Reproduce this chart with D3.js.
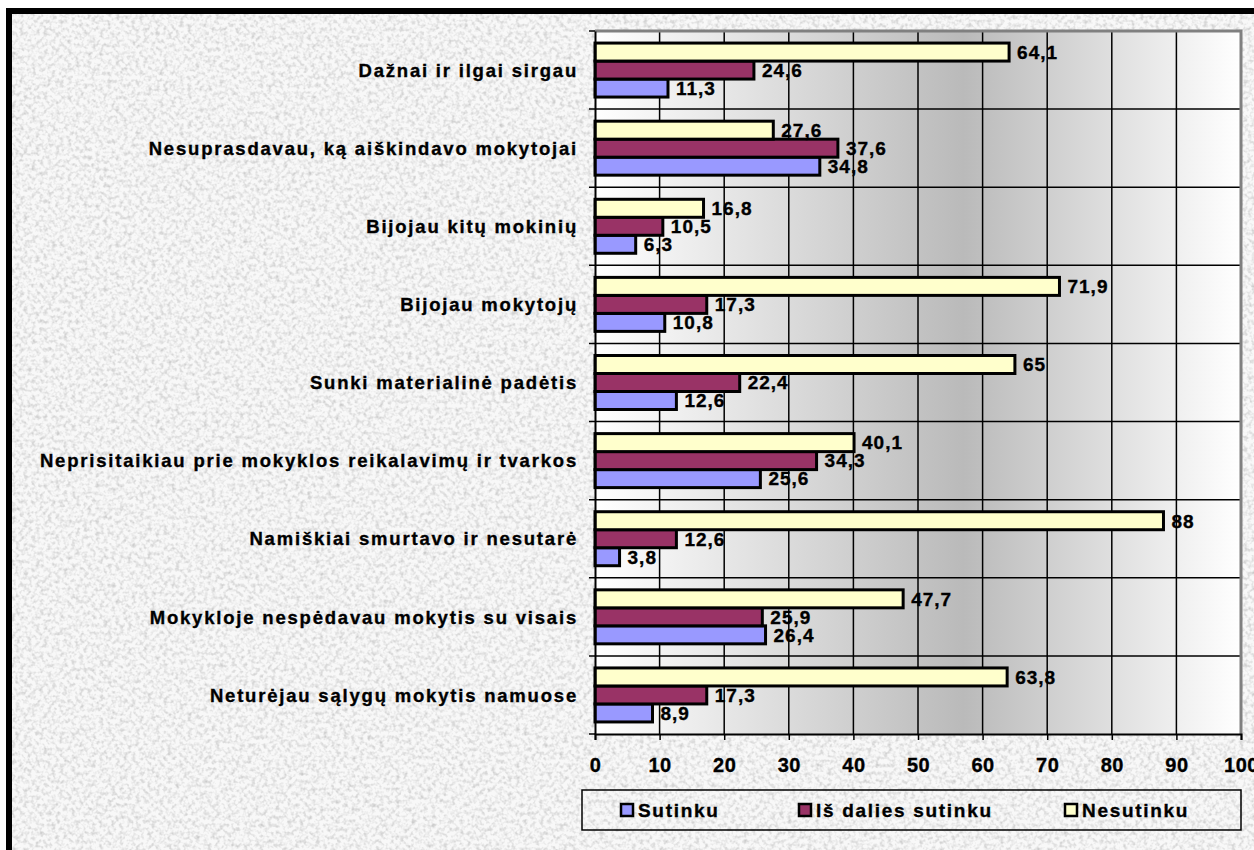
<!DOCTYPE html>
<html>
<head>
<meta charset="utf-8">
<script src="https://cdn.jsdelivr.net/npm/d3@7"></script>
<style>
  body { margin: 0; background: #fff; }
  svg text { font-family: "Liberation Sans", Arial, sans-serif; font-weight: bold; fill: #000;
             stroke: #000; stroke-width: 0.35px; }
</style>
</head>
<body>
<svg id="chart"></svg>
<script>
// data
const categories = [
  "Dažnai ir ilgai sirgau",
  "Nesuprasdavau, ką aiškindavo mokytojai",
  "Bijojau kitų mokinių",
  "Bijojau mokytojų",
  "Sunki materialinė padėtis",
  "Neprisitaikiau prie mokyklos reikalavimų ir tvarkos",
  "Namiškiai smurtavo ir nesutarė",
  "Mokykloje nespėdavau mokytis su visais",
  "Neturėjau sąlygų mokytis namuose"
];
const sutinku    = [11.3, 34.8, 6.3, 10.8, 12.6, 25.6, 3.8, 26.4, 8.9];
const isDalies   = [24.6, 37.6, 10.5, 17.3, 22.4, 34.3, 12.6, 25.9, 17.3];
const nesutinku  = [64.1, 27.6, 16.8, 71.9, 65, 40.1, 88, 47.7, 63.8];
const xTicks = [0, 10, 20, 30, 40, 50, 60, 70, 80, 90, 100];

const seriesNames = ["Sutinku", "Iš dalies sutinku", "Nesutinku"];
const seriesColors = ["#9999ff", "#993366", "#ffffcc"];
const seriesValues = [sutinku, isDalies, nesutinku];
// order of bars inside one category, top to bottom
const barOrder = ["Nesutinku", "Iš dalies sutinku", "Sutinku"];

const W = 1254, H = 850;
const svg = d3.select("#chart").attr("width", W).attr("height", H);
const defs = svg.append("defs");

// paper-like texture
const f = defs.append("filter").attr("id", "noise")
    .attr("x", 0).attr("y", 0).attr("width", "100%").attr("height", "100%");
f.append("feTurbulence").attr("type", "fractalNoise")
    .attr("baseFrequency", 0.25).attr("numOctaves", 4).attr("seed", 7);
f.append("feColorMatrix").attr("type", "matrix")
    .attr("values", "0 0 0 0 0.45  0 0 0 0 0.45  0 0 0 0 0.45  1.4 0 0 0 -0.6");

const grad = defs.append("linearGradient").attr("id", "plotbg")
    .attr("x1", "0%").attr("x2", "100%").attr("y1", "0%").attr("y2", "0%");
grad.append("stop").attr("offset", "0%").attr("stop-color", "#ffffff");
grad.append("stop").attr("offset", "57%").attr("stop-color", "#bababa");
grad.append("stop").attr("offset", "100%").attr("stop-color", "#ffffff");

// background + outer frame
svg.append("rect").attr("x", 9).attr("y", 11).attr("width", W).attr("height", H)
    .attr("fill", "#f8f8f8");
svg.append("rect").attr("x", 9).attr("y", 11).attr("width", W).attr("height", H)
    .attr("filter", "url(#noise)");
svg.append("rect").attr("x", 9).attr("y", 11).attr("width", W + 20).attr("height", H + 20)
    .attr("fill", "none").attr("stroke", "#000").attr("stroke-width", 6);

// scales
const x = d3.scaleLinear().domain([0, 100]).range([595, 1241]);
const y0 = d3.scaleBand().domain(categories).range([31, 734]);
const y1 = d3.scaleBand().domain(barOrder).range([0, y0.bandwidth()]).paddingOuter(0.67);

const plot = svg.append("g");
plot.append("rect")
    .attr("x", x(0)).attr("y", y0.range()[0])
    .attr("width", x(100) - x(0)).attr("height", y0.range()[1] - y0.range()[0])
    .attr("fill", "url(#plotbg)");

// vertical grid
plot.selectAll(".vgrid").data(xTicks.slice(1, -1)).join("line")
    .attr("x1", d => x(d)).attr("x2", d => x(d))
    .attr("y1", y0.range()[0]).attr("y2", y0.range()[1])
    .attr("stroke", "#000").attr("stroke-width", 1.5);

// horizontal separators between categories
const bounds = categories.slice(1).map(c => y0(c));
plot.selectAll(".hgrid").data(bounds).join("line")
    .attr("x1", x(0) - 6).attr("x2", x(100))
    .attr("y1", d => d).attr("y2", d => d)
    .attr("stroke", "#000").attr("stroke-width", 1.5);

// plot border top/right (gray)
plot.append("path")
    .attr("d", `M${x(0)},${y0.range()[0]} H${x(100)} V${y0.range()[1]}`)
    .attr("fill", "none").attr("stroke", "#808080").attr("stroke-width", 3);

// bars
const rows = categories.map((c, i) => ({
  cat: c,
  vals: seriesNames.map((s, k) => ({ name: s, value: seriesValues[k][i], color: seriesColors[k] }))
}));

const groups = plot.selectAll(".grp").data(rows).join("g")
    .attr("transform", d => `translate(0,${y0(d.cat)})`);

groups.selectAll("rect").data(d => d.vals).join("rect")
    .attr("x", x(0))
    .attr("y", d => y1(d.name))
    .attr("width", d => x(d.value) - x(0))
    .attr("height", y1.bandwidth())
    .attr("fill", d => d.color)
    .attr("stroke", "#000").attr("stroke-width", 3);

groups.selectAll("text").data(d => d.vals).join("text")
    .attr("x", d => x(d.value) + 8)
    .attr("y", d => y1(d.name) + y1.bandwidth() / 2)
    .attr("dy", "0.36em")
    .attr("font-size", 19).attr("letter-spacing", 1)
    .text(d => String(d.value).replace(".", ","));

// axes
const xAxis = d3.axisBottom(x).tickValues(xTicks).tickSize(6).tickFormat(d3.format("d"));
const xAxisG = svg.append("g").attr("transform", `translate(0,${y0.range()[1]})`).call(xAxis);
xAxisG.select(".domain").attr("stroke", "#000").attr("stroke-width", 2);
xAxisG.selectAll(".tick line").attr("stroke", "#000").attr("stroke-width", 1.5);
xAxisG.selectAll(".tick text")
    .attr("font-family", null).attr("font-size", 20).attr("letter-spacing", 0.5)
    .attr("y", 31).attr("dy", "0.36em");

const yAxis = d3.axisLeft(y0).tickSize(0).tickPadding(17);
const yAxisG = svg.append("g").attr("transform", `translate(${x(0)},0)`).call(yAxis);
yAxisG.select(".domain").attr("stroke", "#000").attr("stroke-width", 2);
yAxisG.selectAll(".tick text")
    .attr("font-family", null).attr("font-size", 18.5).attr("letter-spacing", 1.8)
    .attr("dy", "0.36em");
// outer ticks at the top/bottom band edges
svg.selectAll(".ytickEnd").data([y0.range()[0], y0.range()[1]]).join("line")
    .attr("x1", x(0) - 6).attr("x2", x(0)).attr("y1", d => d).attr("y2", d => d)
    .attr("stroke", "#000").attr("stroke-width", 1.5);

// legend
const legend = svg.append("g");
legend.append("rect").attr("x", 582).attr("y", 790).attr("width", 659).attr("height", 40)
    .attr("fill", "none").attr("stroke", "#000").attr("stroke-width", 1.5);
const legX = [621, 799, 1065];
const li = legend.selectAll(".li").data(seriesNames).join("g")
    .attr("transform", (d, i) => `translate(${legX[i]},810)`);
li.append("rect").attr("x", 0).attr("y", -6).attr("width", 12).attr("height", 12)
    .attr("fill", (d, i) => seriesColors[i]).attr("stroke", "#000").attr("stroke-width", 2.5);
li.append("text").attr("x", 17).attr("dy", "0.36em")
    .attr("font-size", 19).attr("letter-spacing", 1.7)
    .text(d => d);
</script>
</body>
</html>
